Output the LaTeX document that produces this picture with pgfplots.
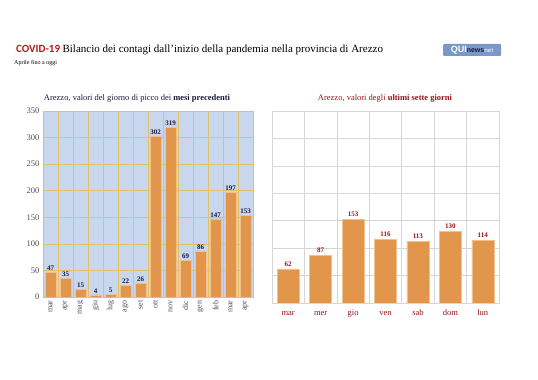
\documentclass[border=0pt]{standalone}
\usepackage{pgfplots}
\pgfplotsset{compat=1.18}
\usepackage{fontspec}
\setmainfont{Liberation Serif}
\newfontfamily\carlito{Carlito}
\newfontfamily\lsans{Liberation Sans}
\definecolor{barorange}{HTML}{E2964C}
\definecolor{baredge}{HTML}{F0C090}
\definecolor{bgblue}{HTML}{C8D6EE}
\definecolor{gold}{HTML}{E2C066}
\definecolor{labgray}{HTML}{505050}
\definecolor{navy}{HTML}{1A1A3A}
\definecolor{darkred}{HTML}{A0101A}
\definecolor{covidred}{HTML}{C0141C}
\definecolor{logoblue}{HTML}{7A98C8}
\definecolor{gridgray}{HTML}{D6D6D6}
\begin{document}
\begin{tikzpicture}[x=1pt,y=1pt]
\path[fill=white] (0,0) rectangle (538,380);
% titles
\node[anchor=base west, inner sep=0] at (16,327) {{\carlito\bfseries\fontsize{11}{12}\selectfont\textcolor{covidred}{COVID-19}} {\fontsize{11}{12}\selectfont Bilancio dei contagi dall'inizio della pandemia nella provincia di Arezzo}};
\node[anchor=base west, inner sep=0] at (14,315) {\fontsize{6}{6}\selectfont Aprile fino a oggi};
\node[anchor=center, fill=logoblue, rounded corners=1pt, inner sep=1pt, minimum width=58pt, minimum height=12pt] at (472,330) {\lsans\bfseries\fontsize{9}{9}\selectfont\textcolor{white}{QUI}\fontsize{7}{7}\selectfont\textcolor{navy}{news}\fontsize{6}{6}\selectfont\textcolor{white!75!logoblue}{net}};
\node[anchor=base, inner sep=0] at (137,279) {\fontsize{8.5}{9}\selectfont\color{navy}Arezzo, valori del giorno di picco dei \textbf{mesi precedenti}};
\node[anchor=base, inner sep=0] at (385,279) {\fontsize{8.5}{9}\selectfont\color{darkred}Arezzo, valori degli \textbf{ultimi sette giorni}};
% left chart
\begin{axis}[
  at={(43pt,83pt)}, anchor=south west,
  scale only axis, width=210pt, height=186pt,
  ymin=0, ymax=350, xmin=-0.5, xmax=13.5,
  ytick={0,50,...,350},
  xtick={0,...,13},
  xticklabels={mar,apr,mag,giu,lug,ago,set,ott,nov,dic,gen,feb,mar,apr},
  x tick label style={rotate=90, anchor=east, font=\fontsize{8}{8}\selectfont, text=labgray},
  y tick label style={font=\fontsize{8.5}{8.5}\selectfont, text=labgray},
  minor xtick={0.5,1.5,...,12.5},
  xminorgrids, ymajorgrids,
  grid style={gold, line width=0.7pt},
  minor grid style={gold, line width=0.7pt},
  axis line style={gold, line width=0.7pt},
  major tick length=0pt, minor tick length=0pt,
  axis background/.style={fill=bgblue},
  ybar, bar width=11pt,
  nodes near coords,
  nodes near coords style={font=\bfseries\fontsize{7}{7}\selectfont, text=navy, inner sep=1.5pt},
  /pgf/number format/assume math mode=true,
]
\addplot[fill=barorange, draw=baredge, line width=0.5pt] coordinates {
(0,47) (1,35) (2,15) (3,4) (4,5) (5,22) (6,26) (7,302) (8,319) (9,69) (10,86) (11,147) (12,197) (13,153)};
\end{axis}
% right chart
\begin{axis}[
  at={(272pt,77pt)}, anchor=south west,
  scale only axis, width=227pt, height=192pt,
  ymin=0, ymax=350, xmin=-0.5, xmax=6.5,
  ytick={0,50,...,350}, yticklabels={},
  xtick={0,...,6},
  xticklabels={mar,mer,gio,ven,sab,dom,lun},
  x tick label style={font=\fontsize{8.5}{8.5}\selectfont, text=darkred, anchor=base, yshift=-13pt},
  minor xtick={0.5,1.5,...,5.5},
  xminorgrids, ymajorgrids,
  grid style={gridgray, line width=0.7pt},
  minor grid style={gridgray, line width=0.7pt},
  axis line style={gridgray, line width=0.7pt},
  major tick length=0pt, minor tick length=0pt,
  ybar, bar width=22pt,
  nodes near coords,
  nodes near coords style={font=\bfseries\fontsize{7}{7}\selectfont, text=darkred, inner sep=2.5pt},
  /pgf/number format/assume math mode=true,
]
\addplot[fill=barorange, draw=baredge, line width=0.5pt] coordinates {
(0,62) (1,87) (2,153) (3,116) (4,113) (5,130) (6,114)};
\end{axis}
\end{tikzpicture}
\end{document}
